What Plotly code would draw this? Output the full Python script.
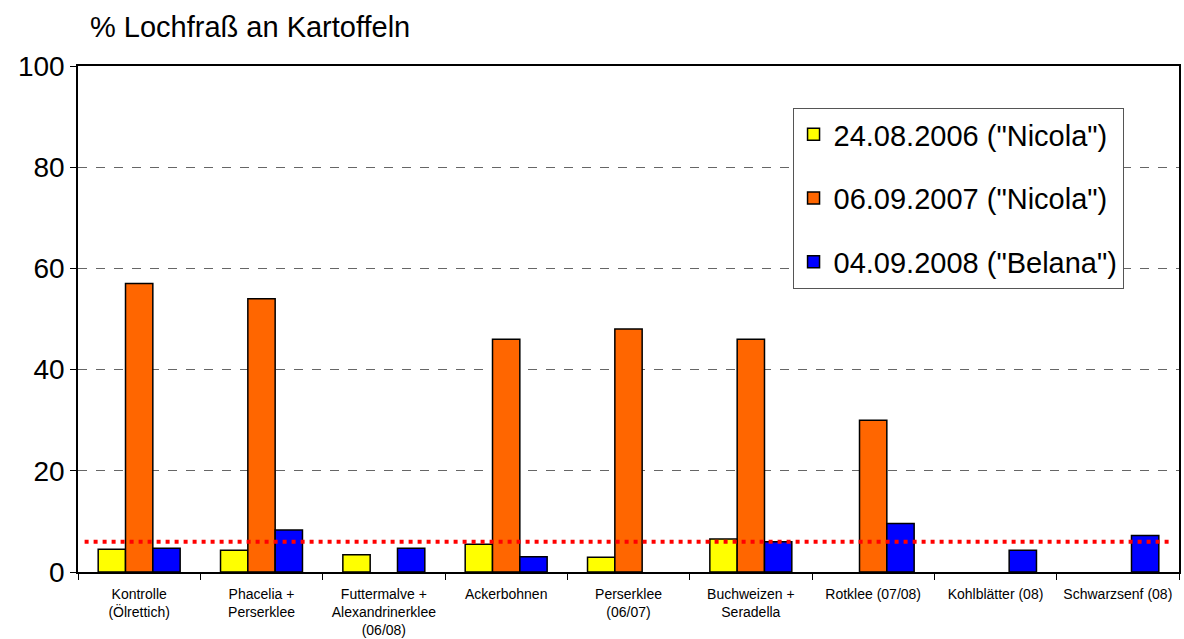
import plotly.graph_objects as go

categories = ["Kontrolle<br>(Ölrettich)", "Phacelia +<br>Perserklee", "Futtermalve +<br>Alexandrinerklee<br>(06/08)",
              "Ackerbohnen", "Perserklee<br>(06/07)", "Buchweizen +<br>Seradella", "Rotklee (07/08)",
              "Kohlblätter (08)", "Schwarzsenf (08)"]
series_names = ['24.08.2006 ("Nicola")', '06.09.2007 ("Nicola")', '04.09.2008 ("Belana")']
vals_2006 = [4.5, 4.3, 3.4, 5.5, 2.9, 6.5, None, None, None]
vals_2007 = [57, 54, None, 46, 48, 46, 30, None, None]
vals_2008 = [4.7, 8.3, 4.7, 3.0, None, 6.0, 9.6, 4.3, 7.2]
threshold = 6
colors = ["#FFFF00", "#FF6600", "#0000FF"]

fig = go.Figure()
for name, vals, col in zip(series_names, [vals_2006, vals_2007, vals_2008], colors):
    fig.add_trace(go.Bar(x=categories, y=vals, name=name, legendgroup=name,
                         marker=dict(color=col, line=dict(color="black", width=1.5))))

fig.add_shape(type="line", xref="paper", yref="y", x0=0.006, x1=0.995, y0=threshold, y1=threshold,
              line=dict(color="#FF0000", width=4, dash="4px,5px"))

fig.update_layout(
    width=1184, height=639,
    margin=dict(l=78, r=5, t=66, b=67),
    plot_bgcolor="white", paper_bgcolor="white",
    font=dict(family="Liberation Sans, Arial, sans-serif", color="black"),
    barmode="group", bargap=0.33, bargroupgap=0,
    title=dict(text="% Lochfraß an Kartoffeln", xref="container", x=0.076, xanchor="left",
               y=1 - 27 / 639, yanchor="middle", font=dict(size=29, color="black")),
    legend=dict(x=0.649, y=0.917, xanchor="left", yanchor="top", bgcolor="white",
                bordercolor="#555555", borderwidth=1, font=dict(size=29),
                tracegroupgap=23, traceorder="grouped", itemwidth=30),
    showlegend=True,
)
fig.update_xaxes(showline=True, linecolor="black", linewidth=1.5, mirror=True, automargin=False,
                 ticks="outside", tickson="boundaries", ticklen=6, tickcolor="black",
                 ticklabelstandoff=8, tickfont=dict(size=14), tickangle=0)
fig.update_yaxes(range=[0, 100], dtick=20, showline=True, linecolor="black", linewidth=1.5, mirror=True,
                 automargin=False,
                 ticks="outside", ticklen=6, tickcolor="black", tickfont=dict(size=28),
                 showgrid=True, gridcolor="#666666", griddash="dash", gridwidth=1, zeroline=False)

fig.write_html("out.html", config={"displayModeBar": False},
               post_script="document.body.style.margin='0';")
